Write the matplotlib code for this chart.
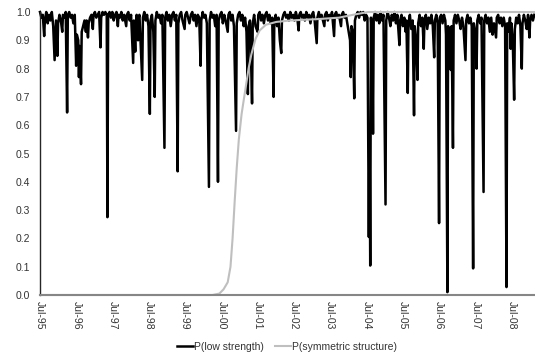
import matplotlib
matplotlib.use('Agg')
import matplotlib.pyplot as plt
import pandas as pd

plt.rcParams['font.family'] = ['Liberation Sans', 'DejaVu Sans']

start = pd.Timestamp('1995-07-01')

# weekly observations: week number since start, probability
weeks_low = [
    0, 2, 4, 6, 7, 9, 11, 13, 15, 17, 19, 21, 22, 23, 25, 26, 28, 30, 32, 33, 35, 37, 39, 40, 42, 44, 46, 48, 50,
    52, 53, 55, 56, 57, 59, 60, 62, 64, 66, 67, 69, 70, 72, 74, 76, 77, 79, 81, 83, 85, 87, 88, 90, 92, 94, 96, 97, 98,
    100, 102, 104, 106, 108, 110, 112, 113, 115, 117, 119, 121, 124, 125, 127, 129, 131, 134, 135, 137, 138, 139,
    141, 142, 143, 147, 148, 150, 152, 154, 156, 158, 159, 161, 163, 165, 166, 168, 170, 172, 174, 176, 179, 180,
    182, 184, 186, 188, 190, 192, 194, 196, 198, 199, 201, 203, 205, 208, 209, 211, 213, 215, 217, 219, 221, 223,
    225, 227, 229, 231, 232, 234, 236, 238, 240, 243, 244, 246, 248, 250, 252, 254, 256, 257, 259, 261, 263, 265,
    267, 270, 271, 273, 275, 277, 279, 282, 283, 285, 287, 289, 291, 293, 295, 297, 299, 300, 302, 303, 305, 306,
    308, 310, 313, 314, 316, 318, 320, 322, 324, 326, 328, 330, 332, 334, 336, 337, 339, 341, 343, 345, 347, 348,
    350, 352, 354, 356, 358, 360, 362, 364, 366, 368, 370, 372, 373, 375, 377, 379, 381, 383, 385, 387, 389, 391,
    393, 395, 398, 399, 401, 403, 405, 407, 409, 410, 412, 414, 416, 418, 420, 423, 424, 426, 428, 430, 433, 434,
    436, 438, 440, 442, 444, 446, 447, 448, 450, 452, 453, 455, 457, 459, 461, 463, 465, 467, 469, 471, 473, 474,
    475, 476, 478, 479, 480, 482, 484, 486, 488, 490, 492, 494, 497, 498, 500, 502, 504, 506, 508, 510, 512, 514,
    517, 518, 520, 522, 524, 526, 527, 529, 530, 532, 534, 536, 538, 539, 541, 543, 544, 546, 548, 550, 552, 553,
    555, 557, 559, 561, 563, 565, 567, 568, 570, 572, 574, 575, 577, 579, 581, 583, 584, 586, 587, 589, 591, 592,
    594, 595, 597, 599, 601, 603, 605, 607, 609, 612, 613, 615, 617, 619, 621, 623, 624, 626, 628, 629, 631, 633,
    635, 638, 639, 641, 643, 645, 647, 649, 651, 653, 656, 657, 659, 661, 663, 665, 667, 669, 671, 672, 674, 676,
    677, 678, 680, 682, 683, 685, 687, 689, 691, 693, 694, 696, 698, 700, 702, 704, 705, 707, 709, 711,
]
p_low = [
    1.0, 0.98, 0.99, 0.915, 0.97, 1.0, 0.96, 0.99, 0.97, 1.0, 0.95, 0.83, 0.9, 0.97, 0.845, 0.96, 0.99, 0.97, 0.93, 0.99, 0.98, 1.0, 0.645, 0.99, 1.0, 0.98, 0.99, 0.96, 0.99,
    0.81, 0.92, 0.9, 0.77, 0.88, 0.745, 0.93, 0.95, 0.97, 0.93, 0.97, 0.91, 0.96, 0.98, 0.99, 0.94, 0.99, 1.0, 0.98, 0.99, 1.0, 0.875, 0.98, 1.0, 0.99, 1.0, 0.99, 0.275, 0.99,
    1.0, 0.98, 1.0, 0.97, 0.99, 1.0, 0.95, 0.99, 0.98, 1.0, 0.97, 0.99, 0.95, 0.99, 1.0, 0.97, 0.99, 0.82, 0.97, 0.86, 0.96, 0.99,
    0.9, 0.98, 0.99, 0.76, 0.98, 1.0, 0.97, 0.99, 0.95, 0.64, 0.97, 0.99, 0.93, 0.70, 0.97, 1.0, 0.98, 0.99, 0.96, 0.99, 0.52, 0.98,
    1.0, 0.97, 0.99, 0.95, 0.99, 1.0, 0.97, 0.99, 0.437, 0.96, 0.99, 1.0, 0.97, 0.94, 0.99, 1.0, 0.98, 0.96, 0.99, 1.0, 0.97, 0.99,
    0.95, 0.99, 0.98, 0.81, 0.97, 1.0, 0.98, 0.99, 0.96, 0.382, 0.97, 1.0, 0.98, 0.99, 0.95, 0.99, 0.40, 0.97, 0.99, 1.0, 0.96, 0.99,
    0.97, 0.93, 0.99, 1.0, 0.97, 0.99, 0.95, 0.58, 0.96, 0.99, 1.0, 0.97, 0.99, 0.95, 0.98, 0.93, 0.71, 0.95, 0.97, 0.9, 0.677, 0.96,
    0.99, 0.95, 0.93, 0.99, 1.0, 0.97, 0.99, 0.96, 0.99, 1.0, 0.97, 0.99, 0.96, 0.98, 0.70, 0.97, 0.99, 0.95, 0.98, 0.9, 0.855, 0.97,
    0.99, 1.0, 0.98, 0.99, 0.97, 1.0, 0.98, 0.99, 0.97, 1.0, 0.98, 0.935, 0.99, 1.0, 0.98, 0.99, 0.97, 1.0, 0.98, 0.99, 0.96, 0.99,
    1.0, 0.97, 0.89, 0.98, 1.0, 0.98, 0.99, 0.97, 0.95, 0.99, 1.0, 0.97, 0.99, 0.98, 1.0, 0.915, 0.99, 1.0, 0.98, 0.99, 0.95, 0.99,
    1.0, 0.98, 0.99, 0.96, 0.93, 0.9, 0.77, 0.95, 0.93, 0.695, 0.97, 0.99, 1.0, 0.98, 1.0, 0.99, 1.0, 0.97, 0.99, 0.98, 0.205, 0.6,
    0.104, 0.98, 0.9, 0.57, 0.98, 1.0, 0.97, 0.99, 0.96, 1.0, 0.97, 0.99, 0.32, 0.97, 1.0, 0.98, 0.95, 0.99, 0.97, 1.0, 0.96, 0.99,
    0.883, 0.97, 0.99, 0.95, 0.98, 0.93, 0.97, 0.714, 0.96, 0.99, 0.94, 0.97, 0.635, 0.95, 0.9, 0.76, 0.96, 0.99, 0.95, 0.98, 0.87, 0.97,
    0.99, 0.94, 0.98, 0.96, 0.99, 0.95, 0.84, 0.97, 0.99, 0.96, 0.254, 0.98, 0.99, 0.96, 0.99, 0.97, 0.92, 0.01, 0.95, 0.93, 0.795, 0.95,
    0.52, 0.97, 0.99, 0.96, 0.99, 0.97, 0.94, 0.98, 0.95, 0.83, 0.97, 0.99, 0.96, 0.98, 0.95, 0.094, 0.96, 0.93, 0.80, 0.97, 0.99, 0.96,
    0.98, 0.364, 0.97, 0.99, 0.96, 0.98, 0.93, 0.98, 0.92, 0.96, 0.91, 0.98, 0.99, 0.96, 0.98, 0.95, 0.98, 0.95, 0.028, 0.96, 0.93, 0.98,
    0.87, 0.96, 0.9, 0.69, 0.94, 0.98, 0.96, 0.99, 0.95, 0.80, 0.96, 0.99, 0.97, 0.94, 0.99, 0.91, 0.97, 0.99, 0.97, 0.99,
]

weeks_sym = [0, 248, 258, 264, 270, 274, 277, 280, 283, 286, 290, 295, 300, 304, 310, 316, 325, 340, 360, 400, 430, 450, 472, 711]
p_sym = [0.0, 0.0, 0.005, 0.02, 0.045, 0.1, 0.2, 0.33, 0.45, 0.55, 0.64, 0.72, 0.8, 0.85, 0.905, 0.935, 0.955, 0.965, 0.97, 0.975, 0.98, 0.99, 1.0, 1.0]

tick_labels = ['Jul-95', 'Jul-96', 'Jul-97', 'Jul-98', 'Jul-99', 'Jul-00', 'Jul-01',
               'Jul-02', 'Jul-03', 'Jul-04', 'Jul-05', 'Jul-06', 'Jul-07', 'Jul-08']

dates_low = start + pd.to_timedelta([w * 7 for w in weeks_low], unit='D')
dates_sym = start + pd.to_timedelta([w * 7 for w in weeks_sym], unit='D')
tick_dates = [pd.Timestamp(f'{1995 + i}-07-01') for i in range(len(tick_labels))]

fig = plt.figure(figsize=(5.35, 3.57), dpi=100)
ax = fig.add_axes([40 / 535, 62 / 357, 495 / 535, 283 / 357])

ax.plot(dates_low, p_low, color='black', lw=1.8, clip_on=False,
        label='P(low strength)')
ax.plot(dates_sym, p_sym, color='#bfbfbf', lw=1.5, clip_on=False,
        label='P(symmetric structure)')

ax.set_ylim(0, 1.0)
ax.set_xlim(start, start + pd.Timedelta(days=712 * 7))
ax.set_yticks([i / 10 for i in range(11)])
ax.yaxis.set_major_formatter(plt.FuncFormatter(lambda v, p: f'{v:.1f}'))
ax.set_xticks(tick_dates)
ax.set_xticklabels(tick_labels, rotation=-90)
ax.tick_params(axis='y', length=0, pad=7, labelsize=7.5, labelcolor='#333333')
ax.tick_params(axis='x', length=0, pad=4, labelsize=7.5, labelcolor='#333333')

for side in ['top', 'right']:
    ax.spines[side].set_visible(False)
ax.spines['left'].set_color('#262626')
ax.spines['left'].set_linewidth(1.0)
ax.spines['bottom'].set_color('#868686')
ax.spines['bottom'].set_linewidth(1.5)

fig.legend(loc='center', bbox_to_anchor=(287 / 535, 10 / 357), ncol=2, frameon=False,
           fontsize=7.5, handlelength=1.6, handletextpad=0.1, columnspacing=1.0,
           labelcolor='#333333')

fig.savefig('out.png', dpi=100)
